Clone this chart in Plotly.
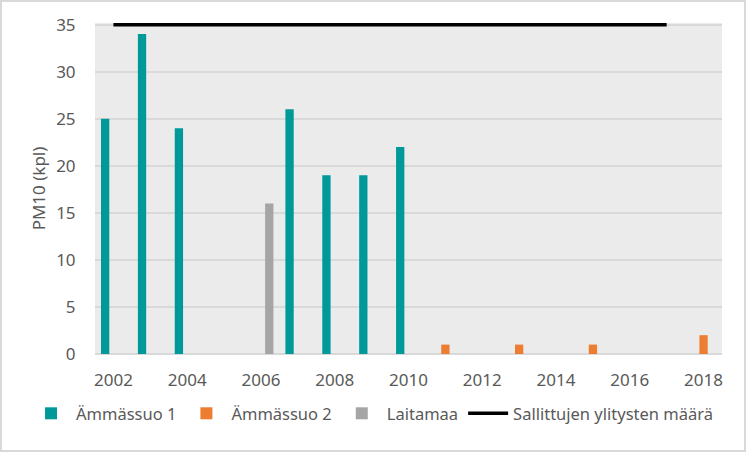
import plotly.graph_objects as go

# data
years_a1 = [2002, 2003, 2004, 2007, 2008, 2009, 2010]
values_a1 = [25, 34, 24, 26, 19, 19, 22]

years_a2 = [2011, 2013, 2015, 2018]
values_a2 = [1, 1, 1, 2]

years_lait = [2006]
values_lait = [16]

limit_years = list(range(2002, 2018))
limit_values = [35] * len(limit_years)

x_ticks = list(range(2002, 2019, 2))

W, H = 746, 452
ML, MR, MT, MB = 95, 24, 23, 98
pw, ph = W - ML - MR, H - MT - MB

text_col = "#595959"
font_family = "Noto Sans, Open Sans, sans-serif"

bar_w = 0.225  # width of one bar, in years

fig = go.Figure()
fig.add_trace(go.Bar(x=years_a1, y=values_a1, name="Ämmässuo 1",
                     width=bar_w, offset=-1.5 * bar_w,
                     marker=dict(color="#009999", line=dict(width=0))))
fig.add_trace(go.Bar(x=years_a2, y=values_a2, name="Ämmässuo 2",
                     width=bar_w, offset=-0.5 * bar_w,
                     marker=dict(color="#ED7D31", line=dict(width=0))))
fig.add_trace(go.Bar(x=years_lait, y=values_lait, name="Laitamaa",
                     width=bar_w, offset=0.5 * bar_w,
                     marker=dict(color="#A5A5A5", line=dict(width=0))))
fig.add_trace(go.Scatter(x=limit_years, y=limit_values, mode="lines",
                         name="Sallittujen ylitysten määrä",
                         line=dict(color="black", width=3.5)))

# light frame round the whole picture
fig.add_shape(type="rect", xref="paper", yref="paper",
              x0=(-ML + 1) / pw, x1=(W - ML - 1) / pw,
              y0=-(MB - 1) / ph, y1=1 + (MT - 1) / ph,
              line=dict(color="#D9D9D9", width=2), layer="below")

fig.update_layout(
    width=W, height=H,
    margin=dict(l=ML, r=MR, t=MT, b=MB, autoexpand=False),
    paper_bgcolor="white",
    plot_bgcolor="#EBEBEB",
    barmode="overlay",
    font=dict(family=font_family, color=text_col, size=16),
    showlegend=True,
    legend=dict(orientation="h", x=-0.11, xanchor="left", y=-0.18, yanchor="middle",
                font=dict(size=16.5, color=text_col), itemwidth=40,
                tracegroupgap=0, traceorder="normal", bgcolor="rgba(0,0,0,0)"),
    xaxis=dict(range=[2001.5, 2018.5], tickvals=x_ticks, showgrid=False,
               zeroline=False, showline=False, ticks="outside", ticklen=11,
               tickcolor="rgba(0,0,0,0)", tickfont=dict(size=17, color=text_col),
               automargin=False),
    yaxis=dict(range=[0, 35.18], tickvals=[0, 5, 10, 15, 20, 25, 30, 35],
               showgrid=True, gridcolor="#D9D9D9", gridwidth=1.5,
               zeroline=True, zerolinecolor="#D9D9D9", zerolinewidth=1.5,
               ticks="outside", ticklen=15, tickcolor="rgba(0,0,0,0)",
               tickfont=dict(size=17, color=text_col), automargin=False,
               title=dict(text="PM10 (kpl)", font=dict(size=17, color=text_col), standoff=6)),
)

# the page body has a default 8px margin; remove it so the chart sits at 0,0
fig.write_html("out.html", config={"displayModeBar": False},
               post_script="document.body.style.margin='0';")
